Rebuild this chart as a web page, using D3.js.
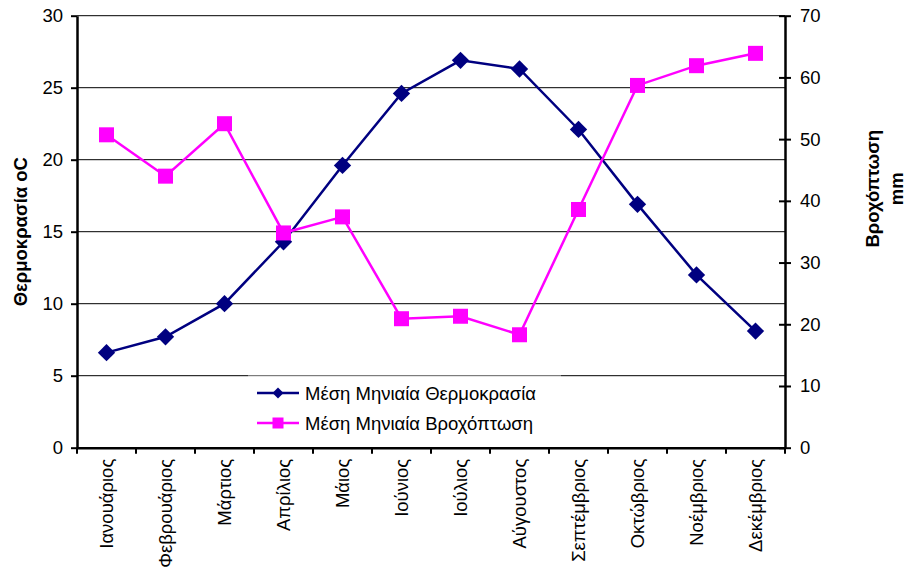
<!DOCTYPE html>
<html>
<head>
<meta charset="utf-8">
<script src="https://cdn.jsdelivr.net/npm/d3@7"></script>
<style>
  html, body { margin: 0; padding: 0; background: #fff; }
  svg { display: block; font-family: "Liberation Sans", Arial, sans-serif; }
</style>
</head>
<body>
<svg id="chart" width="906" height="570"></svg>
<script>
// Monthly categories and the two series
const months = ["Ιανουάριος", "Φεβρουάριος", "Μάρτιος", "Απρίλιος", "Μάιος", "Ιούνιος",
                "Ιούλιος", "Αύγουστος", "Σεπτέμβριος", "Οκτώβριος", "Νοέμβριος", "Δεκέμβριος"];
const temperature = [6.6, 7.7, 10.0, 14.3, 19.6, 24.6, 26.9, 26.3, 22.1, 16.9, 12.0, 8.1];
const rainfall = [50.7, 44.0, 52.5, 34.8, 37.4, 20.9, 21.3, 18.3, 38.6, 58.7, 61.9, 63.9];
const leftTicks = [0, 5, 10, 15, 20, 25, 30];
const rightTicks = [0, 10, 20, 30, 40, 50, 60, 70];
const seriesNames = ["Μέση Μηνιαία Θερμοκρασία", "Μέση Μηνιαία Βροχόπτωση"];
const leftTitle = "Θερμοκρασία oC";
const rightTitle = ["Βροχόπτωση", "mm"];

const svg = d3.select("#chart");
const plot = { left: 77, right: 785, top: 15.7, bottom: 447.7 };
const fontSize = 18.5;
const tempColor = "#000080";
const rainColor = "#FF00FF";

const x = d3.scaleBand().domain(months).range([plot.left, plot.right]);
const yL = d3.scaleLinear().domain([0, 30]).range([plot.bottom, plot.top]);
const yR = d3.scaleLinear().domain([0, 70]).range([plot.bottom, plot.top]);

// Horizontal gridlines on the temperature scale
svg.append("g").selectAll("line")
  .data(leftTicks.filter(d => d > 0))
  .join("line")
  .attr("x1", plot.left).attr("x2", plot.right)
  .attr("y1", d => yL(d)).attr("y2", d => yL(d))
  .attr("stroke", "#000").attr("stroke-width", 1);

// Left axis
const gL = svg.append("g").attr("transform", `translate(${plot.left},0)`)
  .call(d3.axisLeft(yL).tickValues(leftTicks).tickSize(6).tickSizeOuter(0).tickPadding(8));
gL.select(".domain").attr("stroke", "#000").attr("stroke-width", 2.5);
gL.selectAll(".tick line").attr("stroke", "#000").attr("stroke-width", 2);
gL.selectAll(".tick text").attr("font-size", fontSize).attr("font-family", "Liberation Sans, Arial, sans-serif").attr("fill", "#000");

// Right axis, ticks crossing the axis line
const gR = svg.append("g").attr("transform", `translate(${plot.right},0)`)
  .call(d3.axisRight(yR).tickValues(rightTicks).tickSize(6).tickSizeOuter(0).tickPadding(9));
gR.select(".domain").attr("stroke", "#000").attr("stroke-width", 2.5);
gR.selectAll(".tick line").attr("x1", -6).attr("stroke", "#000").attr("stroke-width", 2);
gR.selectAll(".tick text").attr("font-size", fontSize).attr("font-family", "Liberation Sans, Arial, sans-serif").attr("fill", "#000");

// Bottom axis: labels at band centres, ticks at band boundaries
const gB = svg.append("g").attr("transform", `translate(0,${plot.bottom})`)
  .call(d3.axisBottom(x).tickSize(0).tickSizeOuter(0));
gB.select(".domain").attr("stroke", "#000").attr("stroke-width", 2.5);
gB.selectAll(".tick text")
  .attr("font-size", fontSize).attr("font-family", "Liberation Sans, Arial, sans-serif").attr("fill", "#000")
  .attr("text-anchor", "end")
  .attr("transform", "rotate(-90)")
  .attr("x", -11).attr("y", 0).attr("dy", "0.35em");
const boundaries = months.map(m => x(m)).concat([x.range()[1]]);
gB.append("g").selectAll("line").data(boundaries).join("line")
  .attr("x1", d => d).attr("x2", d => d)
  .attr("y1", 0).attr("y2", 6)
  .attr("stroke", "#000").attr("stroke-width", 2);

// Axis titles
svg.append("text")
  .attr("transform", `translate(27,${(plot.top + plot.bottom) / 2}) rotate(-90)`)
  .attr("text-anchor", "middle")
  .attr("font-size", fontSize).attr("font-weight", "bold")
  .text(leftTitle);
const rt = svg.append("text")
  .attr("transform", `translate(879,${(plot.top + plot.bottom) / 2 - 43}) rotate(-90)`)
  .attr("text-anchor", "middle")
  .attr("font-size", fontSize).attr("font-weight", "bold");
rt.selectAll("tspan").data(rightTitle).join("tspan")
  .attr("x", 0).attr("dy", (d, i) => i === 0 ? 0 : "1.3em")
  .text(d => d);

// Legend box
const lg = svg.append("g").attr("transform", "translate(248,376)");
lg.append("rect").attr("width", 313).attr("height", 66).attr("fill", "#fff");
lg.append("line").attr("x1", 0).attr("x2", 313).attr("y1", 0).attr("y2", 0)
  .attr("stroke", "#c8c8c8").attr("stroke-width", 1);

const cx = d => x(d) + x.bandwidth() / 2;
const diamond = d3.symbol().type(d3.symbolDiamond2 || d3.symbolDiamond);

// Temperature series
svg.append("path")
  .datum(temperature)
  .attr("fill", "none").attr("stroke", tempColor).attr("stroke-width", 2.5)
  .attr("d", d3.line().x((d, i) => cx(months[i])).y(d => yL(d)));
svg.append("g").selectAll("path").data(temperature).join("path")
  .attr("transform", (d, i) => `translate(${cx(months[i])},${yL(d)}) rotate(45)`)
  .attr("d", d3.symbol().type(d3.symbolSquare).size(150))
  .attr("fill", tempColor);

// Rainfall series
svg.append("path")
  .datum(rainfall)
  .attr("fill", "none").attr("stroke", rainColor).attr("stroke-width", 2.5)
  .attr("d", d3.line().x((d, i) => cx(months[i])).y(d => yR(d)));
svg.append("g").selectAll("rect").data(rainfall).join("rect")
  .attr("x", (d, i) => cx(months[i]) - 7.5).attr("y", d => yR(d) - 7.5)
  .attr("width", 15).attr("height", 15)
  .attr("fill", rainColor);

// Legend entries
const rows = [
  { name: seriesNames[0], color: tempColor, marker: "diamond" },
  { name: seriesNames[1], color: rainColor, marker: "square" }
];
const entry = lg.selectAll("g.entry").data(rows).join("g")
  .attr("class", "entry")
  .attr("transform", (d, i) => `translate(0,${17 + i * 30})`);
entry.append("line").attr("x1", 9).attr("x2", 51).attr("y1", 0).attr("y2", 0)
  .attr("stroke", d => d.color).attr("stroke-width", 2.5);
entry.filter(d => d.marker === "diamond").append("path")
  .attr("transform", "translate(30,0) rotate(45)")
  .attr("d", d3.symbol().type(d3.symbolSquare).size(60))
  .attr("fill", d => d.color);
entry.filter(d => d.marker === "square").append("rect")
  .attr("x", 24.5).attr("y", -5.5).attr("width", 11).attr("height", 11)
  .attr("fill", d => d.color);
entry.append("text")
  .attr("x", 57).attr("y", 0).attr("dy", "0.36em")
  .attr("font-size", fontSize)
  .text(d => d.name);
</script>
</body>
</html>
